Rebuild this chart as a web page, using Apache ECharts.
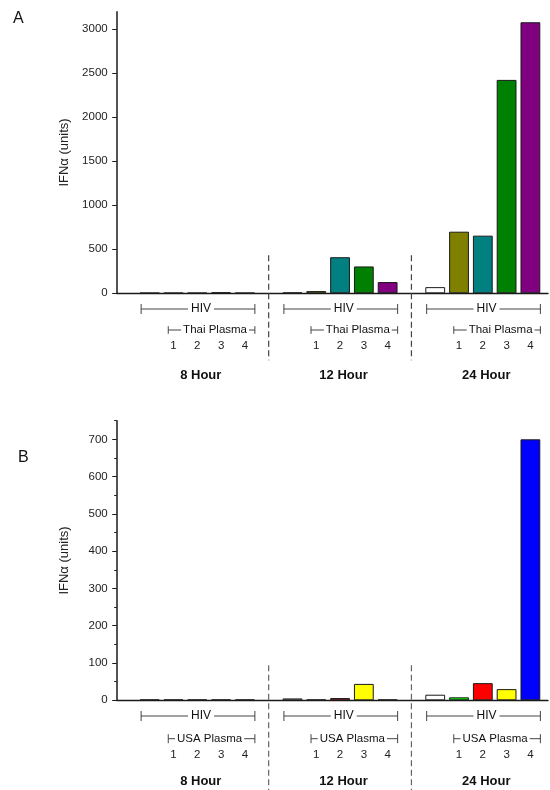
<!DOCTYPE html>
<html><head><meta charset="utf-8">
<script src="https://cdn.jsdelivr.net/npm/echarts@6/dist/echarts.min.js"></script>
<style>html,body{margin:0;padding:0;background:#fff}#c{width:550px;height:790px}</style>
</head><body><div id="c"></div>
<script>
// ---------- data ----------
const hours = ['8 Hour', '12 Hour', '24 Hour'];
const barLabels = ['HIV', '1', '2', '3', '4'];
const plasmaA = 'Thai Plasma';
const plasmaB = 'USA Plasma';
const yTitle = 'IFN\u03B1 (units)';
// Panel A (Thai plasma)
const valuesA8  = [5, 5, 5, 12, 5];
const valuesA12 = [8, 25, 410, 305, 128];
const valuesA24 = [70, 700, 655, 2425, 3080];
// Panel B (USA plasma)
const valuesB8  = [2, 2, 2, 2, 2];
const valuesB12 = [5, 2, 6, 44, 2];
const valuesB24 = [15, 8, 46, 30, 700];
// tick labels
const yTicksA = [0, 500, 1000, 1500, 2000, 2500, 3000];
const yTicksB = [0, 100, 200, 300, 400, 500, 600, 700];
const yMinorB = [50, 150, 250, 350, 450, 550, 650, 750];

// ---------- styles ----------
const colorsA = ['#ffffff', '#808000', '#008080', '#008000', '#800080'];
const colorsB = ['#ffffff', '#00ff00', '#ff0000', '#ffff00', '#0000ff'];
const FONT = '"Liberation Sans", Arial, sans-serif';
const INK = '#1a1a1a';
const GREY = '#444';
const SLOTS_PER_GROUP = 6;   // 5 bars + 1 gap

function barData(groups, colors) {
  const out = [];
  groups.forEach((vals, g) => vals.forEach((v, i) => {
    out.push({ value: [g * SLOTS_PER_GROUP + i, v], itemStyle: { color: colors[i] } });
  }));
  return out;
}
const numberSlots = [];
hours.forEach((h, g) => barLabels.forEach((l, i) => { if (i > 0) numberSlots.push(g * SLOTS_PER_GROUP + i); }));

function xAxisFor(gi, margin) {
  return {
    type: 'value', gridIndex: gi, min: -1.387, max: 16.74,
    axisLine: { show: true, onZero: false, lineStyle: { color: INK, width: 1.4 } },
    axisTick: { show: false }, splitLine: { show: false },
    axisLabel: {
      customValues: numberSlots, margin: margin, fontSize: 11.5, color: '#222', fontFamily: FONT,
      formatter: v => barLabels[Math.round(v) % SLOTS_PER_GROUP]
    }
  };
}
function yAxisFor(gi, max, ticks) {
  return {
    type: 'value', gridIndex: gi, min: 0, max: max, position: 'left',
    name: yTitle, nameLocation: 'middle', nameGap: 46,
    nameTextStyle: { fontSize: 13, color: '#222', fontFamily: FONT },
    axisLine: { show: true, onZero: false, lineStyle: { color: INK, width: 1.5 } },
    axisTick: { show: true, customValues: ticks, length: 4.5, lineStyle: { color: INK, width: 1 } },
    axisLabel: { customValues: ticks, margin: 9, fontSize: 11.5, color: '#222', fontFamily: FONT,
      formatter: v => String(v) },
    splitLine: { show: false }
  };
}
const barStyle = { borderColor: INK, borderWidth: 1 };

const option = {
  animation: false,
  backgroundColor: '#fff',
  grid: [
    { left: 116.7, right: 2, top: 11.7, bottom: 496.7 },
    { left: 116.7, right: 2, top: 420.7, bottom: 89.7 }
  ],
  xAxis: [xAxisFor(0, 47), xAxisFor(1, 49)],
  yAxis: [
    yAxisFor(0, 3200, yTicksA),
    yAxisFor(1, 750, yTicksB),
    { type: 'value', gridIndex: 1, min: 0, max: 750, position: 'left', offset: 0,
      axisLine: { show: false, onZero: false }, axisLabel: { show: false }, splitLine: { show: false },
      axisTick: { show: true, customValues: yMinorB, length: 2.5, lineStyle: { color: INK, width: 1 } } }
  ],
  series: [
    { type: 'bar', xAxisIndex: 0, yAxisIndex: 0, barWidth: 19.8, itemStyle: barStyle, silent: true,
      data: barData([valuesA8, valuesA12, valuesA24], colorsA) },
    { type: 'bar', xAxisIndex: 1, yAxisIndex: 1, barWidth: 19.8, itemStyle: barStyle, silent: true,
      data: barData([valuesB8, valuesB12, valuesB24], colorsB) }
  ]
};

const chart = echarts.init(document.getElementById('c'), null, { renderer: 'canvas' });
chart.setOption(option);

// ---------- annotations placed through the axes ----------
const panels = [
  { gi: 0, plasma: plasmaA, hiv: 15.7, pl: 36.7, hour: 82, plShift: 3.5, plTick: 3.8, dashTop: -38, dashBot: 67, dashColor: '#444', letter: 'A', lx: 13, ly: 11 },
  { gi: 1, plasma: plasmaB, hiv: 15.7, pl: 38.4, hour: 80.7, plShift: -2, plTick: 4.5, dashTop: -35, dashBot: 92, dashColor: '#666', letter: 'B', lx: 18, ly: 450 }
];
const gfx = [];
function line(x1, y1, x2, y2, dashColor) {
  gfx.push({ type: 'line', silent: true, z: 50,
    shape: { x1, y1, x2, y2 },
    style: { stroke: dashColor || GREY, lineWidth: dashColor ? 1.2 : 1, lineDash: dashColor ? [6, 3.5] : null } });
}
function text(t, x, y, font, bg, pad) {
  gfx.push({ type: 'text', silent: true, z: 60,
    style: { text: t, x, y, align: 'center', verticalAlign: 'middle', fill: '#111', font,
      backgroundColor: bg || null, padding: pad || 0 } });
}
panels.forEach(p => {
  const P = (x, y) => chart.convertToPixel({ gridIndex: p.gi }, [x, y]);
  const yb = P(0, 0)[1];
  hours.forEach((h, g) => {
    const s0 = g * SLOTS_PER_GROUP;
    // HIV bracket (all five bars)
    const hx1 = P(s0 - 0.36, 0)[0], hx2 = P(s0 + 4 + 0.42, 0)[0];
    const hy = yb + p.hiv;
    line(hx1, hy, hx2, hy); line(hx1, hy - 5, hx1, hy + 5); line(hx2, hy - 5, hx2, hy + 5);
    text(barLabels[0], (hx1 + hx2) / 2 + 3, hy, '12px ' + FONT, '#fff', [0, 3]);
    // plasma bracket (bars 1-4)
    const px1 = P(s0 + 1 - 0.22, 0)[0], px2 = hx2;
    const py = yb + p.pl;
    line(px1, py, px2, py); line(px1, py - p.plTick, px1, py + p.plTick); line(px2, py - p.plTick, px2, py + p.plTick);
    text(p.plasma, (px1 + px2) / 2 + p.plShift, py, '11.5px ' + FONT, '#fff', [0, 2]);
    // hour label
    text(h, P(s0 + 2, 0)[0] + 3.5, yb + p.hour, 'bold 13px ' + FONT);
    // dashed separator after the group
    if (g < hours.length - 1) {
      const dx = P(s0 + 5, 0)[0];
      line(dx, yb + p.dashTop, dx, yb + p.dashBot, p.dashColor);
    }
  });
  gfx.push({ type: 'text', silent: true, style: { text: p.letter, x: p.lx, y: p.ly, fill: '#111', font: '16px ' + FONT } });
});
chart.setOption({ graphic: { elements: gfx } });
</script>
</body></html>
